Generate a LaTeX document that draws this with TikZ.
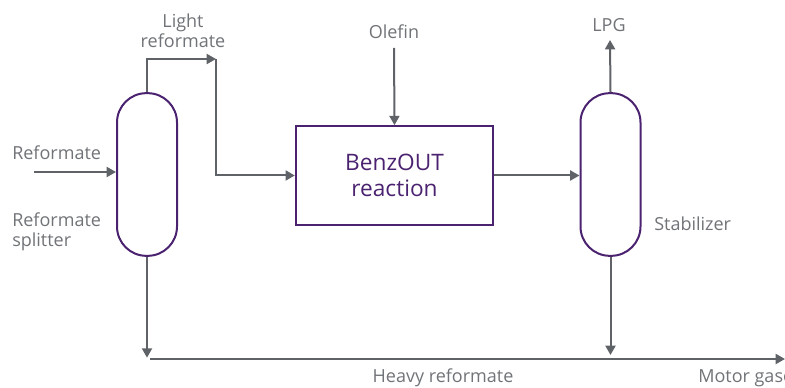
\documentclass[tikz,border=0pt]{standalone}
\usepackage{fontspec}
\setmainfont{Open Sans}
\usepackage{tikz}
\usetikzlibrary{arrows.meta}
\definecolor{flowgray}{HTML}{5F6368}
\definecolor{txtgray}{HTML}{707377}
\definecolor{vessel}{HTML}{4A2270}

\begin{document}
\begin{tikzpicture}[x=0.75pt,y=-0.75pt,
        column/.style={draw=vessel,line width=1.5pt,rounded corners=22pt,minimum width=45pt,minimum height=122pt},
        reactor/.style={draw=vessel,line width=1.5pt,minimum width=148pt,minimum height=74pt,text=vessel,font=\fontsize{17}{20}\selectfont,align=center},
        flow/.style={draw=flowgray,line width=1.5pt,-{Triangle[length=7pt,width=7.5pt]}},
        lbl/.style={text=txtgray,font=\fontsize{13.5}{15}\selectfont,align=left,inner sep=0pt}]
        \useasboundingbox (0,0) rectangle (785,388);

        % Vessels
        \node[column] (split) at (147,174.5) {};
        \node[column] (stab) at (610.5,174.5) {};
        \node[reactor] (reac) at (394.5,175.5) {BenzOUT\\reaction};

        % Stream names
        \node[lbl,anchor=west] (feedlbl) at (12,153) {Reformate};
        \node[lbl,anchor=west] (splitlbl) at (12,232) {Reformate\\splitter};
        \node[lbl,align=center] (lightlbl) at (183,31) {Light\\reformate};
        \node[lbl] (olefinlbl) at (394,32) {Olefin};
        \node[lbl] (lpglbl) at (609,25) {LPG};
        \node[lbl,anchor=west] (stablbl) at (654,224) {Stabilizer};
        \node[lbl] (heavylbl) at (443,378) {Heavy reformate};
        \node[lbl,anchor=west] (motorlbl) at (698,378) {Motor gasoline};

        % Free ends of the streams
        \coordinate (feed) at (34,172);
        \coordinate (lighttop) at (216,59);
        \coordinate (olefin) at (394,48);
        \coordinate (lpg) at (610,40);
        \coordinate (hdrL) at (150,359);
        \coordinate (hdrR) at (785,359);

        % Streams
        \draw[flow] (feed) -- (feed -| split.west);
        \draw[flow] (split.north) |- (lighttop);
        \draw[flow] (lighttop) |- (reac.west);
        \draw[flow] (olefin) -- (reac.north);
        \draw[flow] (reac.east) -- (reac.east -| stab.west);
        \draw[flow] (stab.north) -- (lpg);
        \draw[flow] (split.south) -- ([yshift=1pt]split.south |- hdrL);
        \draw[flow] (stab.south) -- ([yshift=3pt]stab.south |- hdrL);
        \draw[flow] (hdrL) -- (hdrR);
\end{tikzpicture}
\end{document}
